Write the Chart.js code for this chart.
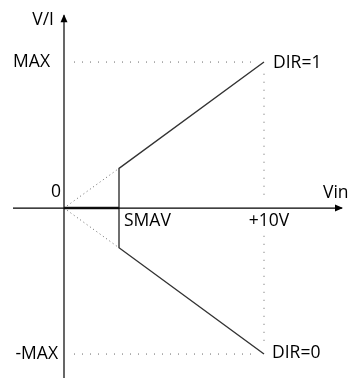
<!DOCTYPE html>
<html>
<head>
<meta charset="utf-8">
<script src="https://cdn.jsdelivr.net/npm/chart.js@4/dist/chart.umd.min.js"></script>
<style>
    body { margin: 0; background: #fff; }
    canvas { display: block; }
</style>
</head>
<body>
<canvas id="grafico" width="350" height="378"></canvas>
<script>
// Datos de la curva (Vin en voltios, salida normalizada a MAX = 1)
const smav = 2.75;
const vinMax = 10;
const curvaX = [10, 2.75, 2.75, 10];
const curvaY = [1, 0.272, -0.272, -1];
const zonaMuertaX = [0, 2.75];
const zonaMuertaY = [0, 0];
const extSupX = [0, 2.75];
const extSupY = [0, 0.272];
const extInfX = [0, 2.75];
const extInfY = [0, -0.272];
// Ejes
const ejeXx = [-2.55, 13.9];
const ejeXy = [0, 0];
const ejeYx = [0, 0];
const ejeYy = [-1.2, 1.32];
// Guías punteadas
const guiaMaxX = [0.5, 9.6];
const guiaMaxY = [1, 1];
const guiaMinX = [0.5, 9.6];
const guiaMinY = [-1, -1];
const guia10SupX = [10, 10];
const guia10SupY = [0.92, 0.07];
const guia10InfX = [10, 10];
const guia10InfY = [-0.19, -0.93];
// Etiquetas: texto, x, y, alineación
const etiquetas = ["V/I", "MAX", "-MAX", "0", "SMAV", "+10V", "Vin", "DIR=1", "DIR=0"];
const etiquetasX = [-0.5, -0.7, -0.3, -0.15, 3.0, 10.25, 12.95, 10.45, 10.4];
const etiquetasY = [1.288, 1, -1, 0.11, -0.09, -0.09, 0.1, 0.99, -0.99];
const etiquetasAlign = ["right", "right", "right", "right", "left", "center", "left", "left", "left"];

document.addEventListener("DOMContentLoaded", function () {
    const ctx = document.getElementById("grafico").getContext("2d");

    function puntos(xs, ys) {
        return xs.map((x, i) => ({ x: x, y: ys[i] }));
    }

    function serie(xs, ys, color, ancho, dash) {
        return {
            data: puntos(xs, ys),
            borderColor: color,
            borderWidth: ancho,
            borderDash: dash || [],
            pointRadius: 0,
            showLine: true,
            fill: false,
            tension: 0
        };
    }

    const textoPlugin = {
        id: "textos",
        afterDatasetsDraw(chart) {
            const c = chart.ctx;
            const sx = chart.scales.x;
            const sy = chart.scales.y;
            c.save();

            // flechas de los ejes
            c.fillStyle = "#000";
            const ax = sx.getPixelForValue(ejeXx[1]);
            const ay = sy.getPixelForValue(0);
            c.beginPath();
            c.moveTo(ax + 1, ay);
            c.lineTo(ax - 7, ay - 3.5);
            c.lineTo(ax - 7, ay + 3.5);
            c.closePath();
            c.fill();
            const bx = sx.getPixelForValue(0);
            const by = sy.getPixelForValue(ejeYy[1]);
            c.beginPath();
            c.moveTo(bx, by - 1);
            c.lineTo(bx - 3.5, by + 7);
            c.lineTo(bx + 3.5, by + 7);
            c.closePath();
            c.fill();

            c.font = '17.5px "Open Sans", sans-serif';
            c.fillStyle = "#000";
            c.textBaseline = "middle";
            etiquetas.forEach((t, i) => {
                c.textAlign = etiquetasAlign[i];
                c.fillText(t, sx.getPixelForValue(etiquetasX[i]), sy.getPixelForValue(etiquetasY[i]));
            });
            c.restore();
        }
    };

    new Chart(ctx, {
        type: "scatter",
        data: {
            datasets: [
                serie(ejeXx, ejeXy, "#000", 1.2),
                serie(ejeYx, ejeYy, "#000", 1.2),
                serie(guiaMaxX, guiaMaxY, "#666", 1, [1, 7]),
                serie(guiaMinX, guiaMinY, "#666", 1, [1, 7]),
                serie(guia10SupX, guia10SupY, "#666", 1, [1, 7]),
                serie(guia10InfX, guia10InfY, "#666", 1, [1, 7]),
                serie(extSupX, extSupY, "#666", 1, [1, 3]),
                serie(extInfX, extInfY, "#666", 1, [1, 3]),
                serie(zonaMuertaX, zonaMuertaY, "#222", 2.5),
                serie(curvaX, curvaY, "#333", 1.4)
            ]
        },
        options: {
            responsive: false,
            animation: false,
            layout: { padding: 0 },
            plugins: {
                legend: { display: false },
                tooltip: { enabled: false }
            },
            scales: {
                x: { type: "linear", min: -3.2, max: 14.3, display: false },
                y: { type: "linear", min: -1.164, max: 1.425, display: false }
            }
        },
        plugins: [textoPlugin]
    });
});
</script>
</body>
</html>
